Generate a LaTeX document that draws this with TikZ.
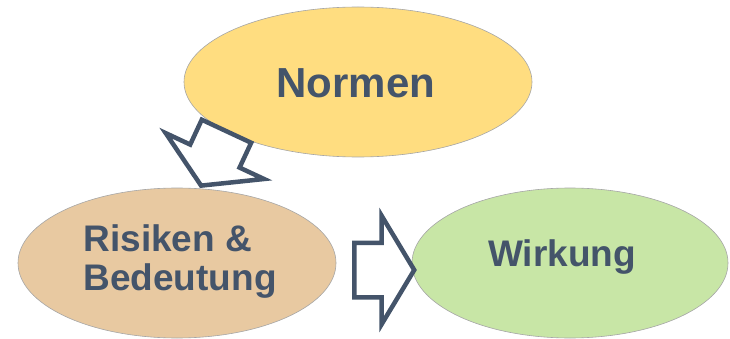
\documentclass[tikz,border=0pt]{standalone}
\usepackage{fontspec}
\setmainfont{Liberation Sans}
\usepackage{tikz}
\usetikzlibrary{shapes.geometric,shapes.arrows}
\definecolor{slateblue}{HTML}{44546A}
\definecolor{normyellow}{HTML}{FFDD80}
\definecolor{risktan}{HTML}{E8C9A1}
\definecolor{wirkgreen}{HTML}{C8E6A6}

\begin{document}
\begin{tikzpicture}[x=1pt,y=-1pt,
  blob/.style={ellipse,draw=gray!70,line width=0.6pt,inner sep=0pt},
  blocktip/.style={single arrow,draw=slateblue,fill=white,line width=4.5pt,
    inner xsep=0pt,inner ysep=25pt,minimum height=60pt,single arrow head extend=27pt,
    single arrow tip angle=118,line join=miter},
  lbl/.style={text=slateblue,font=\bfseries}]
  \useasboundingbox (0,0) rectangle (730,339);
  \node[blob,fill=normyellow,minimum width=348pt,minimum height=150pt] (norm) at (358,82) {};
  \node[blob,fill=risktan,minimum width=318pt,minimum height=150pt] (risk) at (177,263) {};
  \node[blob,fill=wirkgreen,minimum width=316pt,minimum height=150pt] (wirk) at (570,263) {};
  \node[blocktip,anchor=tip,rotate=-115] (downarr) at (200,188) {};
  \node[blocktip,anchor=tail] (rightarr) at (352,270) {};
  \node[lbl,font=\fontsize{42}{46}\selectfont\bfseries,anchor=base] (normtxt) at (356,98) {Normen};
  \node[lbl,font=\fontsize{37}{39}\selectfont\bfseries,align=left,anchor=base west] (risktxt) at (80,290) {Risiken \&\\Bedeutung};
  \node[lbl,font=\fontsize{37}{39}\selectfont\bfseries,anchor=base] (wirktxt) at (562,266) {Wirkung};
\end{tikzpicture}
\end{document}
